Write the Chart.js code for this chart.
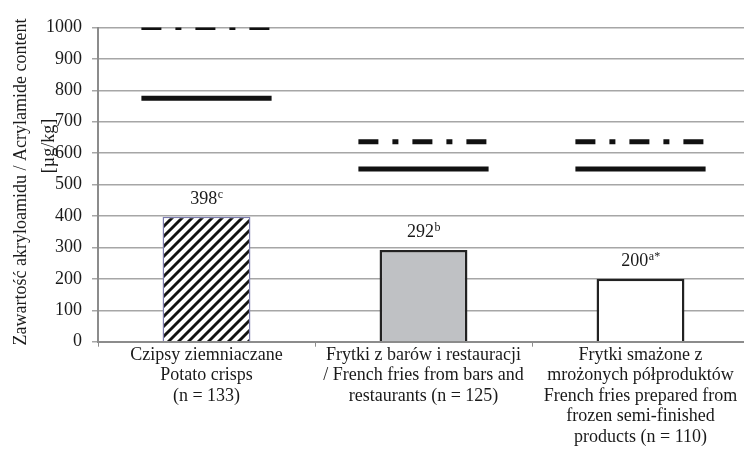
<!DOCTYPE html>
<html>
<head>
<meta charset="utf-8">
<script src="https://cdn.jsdelivr.net/npm/chart.js@4"></script>
<style>
  html, body { margin: 0; padding: 0; background: #fff; overflow: hidden; }
  #wrap { width: 752px; height: 455px; }
</style>
</head>
<body>
<div id="wrap"><canvas id="acrylChart"></canvas></div>
<script>
var categories = [
    ['Czipsy ziemniaczane', 'Potato crisps', '(n = 133)'],
    ['Frytki z barów i restauracji', '/ French fries from bars and', 'restaurants (n = 125)'],
    ['Frytki smażone z', 'mrożonych półproduktów', 'French fries prepared from', 'frozen semi-finished', 'products (n = 110)']
];
var meanValues = [398, 292, 200];
var supLetters = ['c', 'b', 'a*'];
var upperLimit = [1000, 636, 636];   // dash-dot
var lowerLimit = [775, 550, 550];    // solid
var yTicks = [0, 100, 200, 300, 400, 500, 600, 700, 800, 900, 1000];
var yTitle = ['Zawartość akryloamidu / Acrylamide content', '[µg/kg]'];

var serif = "'Liberation Serif', 'Times New Roman', serif";
var ink = '#1a1a1a';

function hatch() {
    var c = document.createElement('canvas');
    c.width = 10; c.height = 10;
    var g = c.getContext('2d');
    g.fillStyle = '#fff';
    g.fillRect(0, 0, 10, 10);
    g.strokeStyle = '#111';
    g.lineWidth = 2.9;
    g.beginPath();
    g.moveTo(-5, 15); g.lineTo(15, -5);
    g.moveTo(-5, 5); g.lineTo(5, -5);
    g.moveTo(5, 15); g.lineTo(15, 5);
    g.stroke();
    return g.createPattern(c, 'repeat');
}

function segments(values) {
    var pts = [];
    values.forEach(function(v, i) {
        pts.push({x: i - 0.3, y: v});
        pts.push({x: i + 0.3, y: v});
        pts.push({x: i + 0.45, y: null});
    });
    return pts;
}

var barLabels = {
    id: 'barLabels',
    afterDatasetsDraw: function(chart) {
        var ctx = chart.ctx;
        var meta = chart.getDatasetMeta(0);
        ctx.save();
        ctx.fillStyle = ink;
        ctx.textBaseline = 'alphabetic';
        ctx.textAlign = 'left';
        meta.data.forEach(function(bar, i) {
            var main = String(meanValues[i]);
            var sup = supLetters[i];
            ctx.font = '18px ' + serif;
            var w1 = ctx.measureText(main).width;
            ctx.font = '12px ' + serif;
            var w2 = ctx.measureText(sup).width;
            var x0 = bar.x - (w1 + w2) / 2;
            var y0 = bar.y - 13;
            ctx.font = '18px ' + serif;
            ctx.fillText(main, x0, y0);
            ctx.font = '12px ' + serif;
            ctx.fillText(sup, x0 + w1 + 0.5, y0 - 6);
        });
        ctx.restore();
    }
};

var yTitlePlugin = {
    id: 'yTitlePlugin',
    afterDraw: function(chart) {
        var ctx = chart.ctx;
        var spots = [[21, 182], [49, 146]];
        yTitle.forEach(function(line, i) {
            ctx.save();
            ctx.fillStyle = ink;
            ctx.font = '18px ' + serif;
            ctx.textAlign = 'center';
            ctx.textBaseline = 'middle';
            ctx.translate(spots[i][0], spots[i][1]);
            ctx.rotate(-Math.PI / 2);
            ctx.fillText(line, 0, 0);
            ctx.restore();
        });
    }
};

new Chart(document.getElementById('acrylChart'), {
    data: {
        labels: categories,
        datasets: [{
            type: 'bar',
            data: meanValues,
            xAxisID: 'x',
            backgroundColor: [hatch(), '#bfc1c4', '#ffffff'],
            borderColor: ['#7a7aac', '#222222', '#222222'],
            borderWidth: [1.5, 2.5, 2.5],
            grouped: false,
            categoryPercentage: 1,
            barPercentage: 0.405,
            order: 2
        }, {
            type: 'line',
            data: segments(upperLimit),
            xAxisID: 'xl',
            borderColor: '#111',
            borderWidth: 5,
            borderDash: [20, 14, 6, 14],
            borderCapStyle: 'butt',
            pointRadius: 0,
            spanGaps: false,
            order: 1
        }, {
            type: 'line',
            data: segments(lowerLimit),
            xAxisID: 'xl',
            borderColor: '#111',
            borderWidth: 5,
            borderCapStyle: 'butt',
            pointRadius: 0,
            spanGaps: false,
            order: 1
        }]
    },
    options: {
        responsive: true,
        maintainAspectRatio: false,
        animation: false,
        layout: { padding: { top: 27.5, right: 3, left: 0, bottom: 0 } },
        plugins: {
            legend: { display: false },
            tooltip: { enabled: false }
        },
        scales: {
            x: {
                type: 'category',
                offset: true,
                grid: {
                    offset: true,
                    drawOnChartArea: false,
                    tickLength: 5,
                    color: '#8c8c8c',
                    lineWidth: 1
                },
                border: { color: '#8c8c8c', width: 2 },
                ticks: {
                    color: ink,
                    maxRotation: 0,
                    autoSkip: false,
                    padding: -2,
                    font: { family: serif, size: 18, lineHeight: 1.14 }
                },
                afterFit: function(scale) {
                    scale.height = 455 - 341.7;
                    scale.paddingLeft = 0;
                    scale.paddingRight = 0;
                }
            },
            xl: {
                type: 'linear',
                display: false,
                min: -0.5,
                max: 2.5
            },
            y: {
                min: 0,
                max: 1000,
                afterBuildTicks: function(scale) {
                    scale.ticks = yTicks.map(function(v) { return {value: v}; });
                },
                grid: {
                    color: '#a6a6a6',
                    lineWidth: 1.5,
                    tickLength: 6
                },
                border: { color: '#8c8c8c', width: 2 },
                ticks: {
                    color: ink,
                    padding: 10,
                    font: { family: serif, size: 18 },
                    callback: function(value) { return String(value); }
                },
                afterFit: function(scale) {
                    scale.width = 98;
                }
            }
        }
    },
    plugins: [barLabels, yTitlePlugin]
});
</script>
</body>
</html>
